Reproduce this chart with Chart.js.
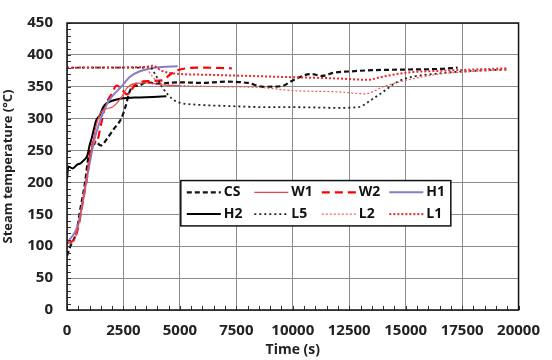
<!DOCTYPE html>
<html>
<head>
<meta charset="utf-8">
<script src="https://cdn.jsdelivr.net/npm/chart.js@4"></script>
<style>
  html, body { margin: 0; padding: 0; background: #fff; }
  #wrap { width: 552px; height: 360px; }
</style>
</head>
<body>
<div id="wrap"><canvas id="steamChart" width="552" height="360"></canvas></div>
<script>
// Values (time in s, temperature in °C)
const csTime = [0, 150, 400, 600, 800, 950, 1100, 1300, 1500, 1800, 2100, 2400, 2600, 2750, 2900, 3200, 3500, 4000, 5000, 6000, 7000, 8000, 8700, 9500, 10000, 10800, 11300, 11800, 12500, 13500, 15000, 16500, 17300];
const csTemp = [85, 100, 120, 160, 200, 240, 255, 262, 258, 270, 285, 300, 320, 340, 350, 352, 357, 355, 357, 356, 358, 356, 350, 351, 360, 370, 367, 372, 374, 376, 377, 378, 380];

const w1Time = [0, 300, 600, 900, 1100, 1300, 1550, 2000, 2400, 2650, 3000, 3500, 4000, 4500, 5000];
const w1Temp = [105, 108, 150, 215, 255, 290, 312, 318, 333, 348, 355, 356, 354, 352, 352];

const w2Time = [0, 300, 500, 700, 900, 1000, 1200, 1300, 1500, 1700, 2000, 2200, 2450, 2650, 3100, 3600, 4200, 4600, 4900, 5300, 6000, 7300];
const w2Temp = [105, 110, 130, 170, 210, 240, 265, 262, 290, 320, 340, 352, 345, 338, 356, 359, 360, 370, 376, 379, 380, 379];

const h1Time = [0, 500, 900, 1200, 1500, 1800, 2000, 2400, 2800, 3200, 3600, 4200, 4900];
const h1Temp = [105, 135, 210, 265, 300, 325, 335, 350, 366, 374, 378, 381, 382];

const h2Time = [0, 60, 250, 450, 600, 750, 900, 1000, 1100, 1200, 1300, 1450, 1600, 1750, 2000, 2300, 3000, 3800, 4400];
const h2Temp = [205, 225, 222, 228, 230, 235, 242, 258, 270, 285, 298, 305, 318, 324, 328, 331, 333, 334, 335];

const l5Time = [0, 3500, 3650, 3900, 4200, 4700, 5000, 5700, 7000, 9000, 10000, 12000, 12900, 13500, 14000, 14500, 15000, 16500, 18000, 19500];
const l5Temp = [380, 380, 382, 370, 350, 330, 325, 322, 320, 318, 318, 317, 318, 330, 342, 355, 363, 371, 375, 377];

const l2Time = [0, 3500, 3700, 4000, 4500, 5000, 7000, 8500, 10000, 12000, 13200, 14000, 15000, 16500, 18000, 19500];
const l2Temp = [380, 380, 370, 358, 353, 352, 350, 349, 344, 342, 339, 350, 360, 370, 374, 377];

const l1Time = [0, 3500, 3800, 4200, 5000, 6000, 8000, 10000, 12000, 13300, 14000, 15000, 16500, 18000, 19500];
const l1Temp = [380, 381, 383, 375, 370, 369, 367, 365, 363, 361, 366, 372, 375, 377, 379];

const xTicks = [0, 2500, 5000, 7500, 10000, 12500, 15000, 17500, 20000];
const yTicks = [0, 50, 100, 150, 200, 250, 300, 350, 400, 450];

// legend order (two rows of four)
const legendOrder = ['CS', 'W1', 'W2', 'H1', 'H2', 'L5', 'L2', 'L1'];

function toPoints(times, temps) {
    return times.map((t, i) => ({ x: t, y: temps[i] }));
}

const FONT = "'Open Sans', 'DejaVu Sans', sans-serif";
Chart.defaults.font.family = FONT;
Chart.defaults.font.weight = 'bold';
Chart.defaults.color = '#222';

const datasets = [
    { label: 'L1', data: toPoints(l1Time, l1Temp), borderColor: '#e8292b', borderWidth: 2, borderDash: [2, 2] },
    { label: 'L2', data: toPoints(l2Time, l2Temp), borderColor: '#f0585a', borderWidth: 1.2, borderDash: [2, 2] },
    { label: 'L5', data: toPoints(l5Time, l5Temp), borderColor: '#222', borderWidth: 1.8, borderDash: [2, 3] },
    { label: 'W1', data: toPoints(w1Time, w1Temp), borderColor: '#e8474a', borderWidth: 1.2 },
    { label: 'H1', data: toPoints(h1Time, h1Temp), borderColor: '#8a7cc4', borderWidth: 2 },
    { label: 'H2', data: toPoints(h2Time, h2Temp), borderColor: '#000', borderWidth: 2 },
    { label: 'W2', data: toPoints(w2Time, w2Temp), borderColor: '#ff0000', borderWidth: 2.2, borderDash: [8, 5] },
    { label: 'CS', data: toPoints(csTime, csTemp), borderColor: '#111', borderWidth: 2.2, borderDash: [5, 3] }
].map(ds => Object.assign({ fill: false, pointRadius: 0, cubicInterpolationMode: 'monotone' }, ds));

// box, inward minor ticks and the in-plot legend
const framePlugin = {
    id: 'frame',
    afterDatasetsDraw(chart) {
        const { ctx, chartArea: a, scales } = chart;
        ctx.save();

        // minor ticks
        ctx.strokeStyle = '#333';
        ctx.lineWidth = 1;
        ctx.beginPath();
        for (let t = 0; t <= 20000; t += 500) {
            const px = Math.round(scales.x.getPixelForValue(t)) + 0.5;
            ctx.moveTo(px, a.bottom);
            ctx.lineTo(px, a.bottom - 4);
        }
        for (let v = 0; v <= 450; v += 10) {
            const py = Math.round(scales.y.getPixelForValue(v)) + 0.5;
            ctx.moveTo(a.left, py);
            ctx.lineTo(a.left + 4, py);
        }
        ctx.stroke();

        // plot frame
        ctx.strokeStyle = '#111';
        ctx.lineWidth = 1.5;
        ctx.strokeRect(a.left, a.top, a.right - a.left, a.bottom - a.top);

        // legend box
        const w = a.right - a.left, h = a.bottom - a.top;
        const bx = a.left + w * 0.252, by = a.top + h * 0.549;
        const bw = w * 0.598, bh = h * 0.158;
        ctx.fillStyle = '#fff';
        ctx.fillRect(bx, by, bw, bh);
        ctx.strokeStyle = '#111';
        ctx.lineWidth = 1.5;
        ctx.strokeRect(bx, by, bw, bh);

        const colW = bw / 4;
        ctx.font = `bold 14px ${FONT}`;
        ctx.textBaseline = 'middle';
        ctx.textAlign = 'left';
        legendOrder.forEach((name, i) => {
            const ds = chart.data.datasets.find(d => d.label === name);
            const col = i % 4, row = Math.floor(i / 4);
            const x0 = bx + 6 + col * colW;
            const y0 = by + bh * (row === 0 ? 0.26 : 0.74);
            ctx.strokeStyle = ds.borderColor;
            ctx.lineWidth = ds.borderWidth;
            ctx.setLineDash(ds.borderDash || []);
            ctx.beginPath();
            ctx.moveTo(x0, y0);
            ctx.lineTo(x0 + 34, y0);
            ctx.stroke();
            ctx.setLineDash([]);
            ctx.fillStyle = '#111';
            ctx.fillText(name, x0 + 37, y0);
        });
        ctx.restore();
    }
};

new Chart(document.getElementById('steamChart'), {
    type: 'line',
    data: { datasets },
    options: {
        responsive: false,
        animation: false,
        layout: { padding: { top: 13, right: 20, left: 0, bottom: 0 } },
        plugins: { legend: { display: false }, tooltip: { enabled: false } },
        scales: {
            x: {
                type: 'linear',
                min: 0,
                max: 20000,
                afterBuildTicks: s => { s.ticks = xTicks.map(v => ({ value: v })); },
                afterFit: s => { s.height = 50; },
                ticks: { font: { size: 15, weight: 'bold' }, color: '#222', padding: 12, maxRotation: 0, callback: v => String(v) },
                grid: { color: '#8c8c8c', drawTicks: false },
                border: { display: false },
                title: { display: true, text: 'Time (s)', font: { size: 14, weight: 'bold' }, color: '#222', padding: { top: 0, bottom: 2 } }
            },
            y: {
                min: 0,
                max: 450,
                afterBuildTicks: s => { s.ticks = yTicks.map(v => ({ value: v })); },
                afterFit: s => { s.width = 67; },
                ticks: { font: { size: 15, weight: 'bold' }, color: '#222', padding: 14, callback: v => String(v) },
                grid: { color: '#8c8c8c', drawTicks: false },
                border: { display: false },
                title: { display: true, text: 'Steam temperature (°C)', font: { size: 13, weight: 'bold' }, color: '#222', padding: { top: 0, bottom: 6 } }
            }
        }
    },
    plugins: [framePlugin]
});
</script>
</body>
</html>
